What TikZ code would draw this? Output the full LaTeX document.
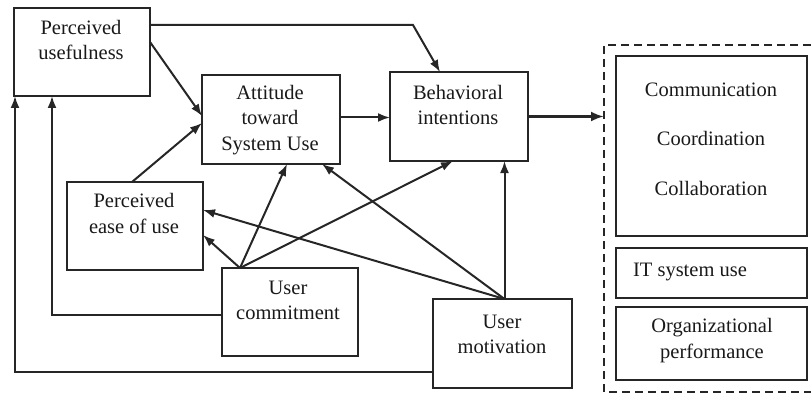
\documentclass[tikz,border=0pt]{standalone}
\usepackage{fontspec}
\setmainfont{Liberation Serif}
\usetikzlibrary{arrows.meta,calc}
\begin{document}
\begin{tikzpicture}[x=1pt,y=-1pt,
  box/.style={draw=black!85,line width=2pt,inner sep=0pt,outer sep=0pt,rectangle},
  txt/.style={align=center,inner sep=0pt,font=\fontsize{20.5}{25.5}\selectfont,text=black!90},
  conn/.style={draw=black!85,line width=2pt},
  arr/.style={conn,-{Latex[length=12pt,width=9pt]}}]
\useasboundingbox (0,0) rectangle (811,401);
% boxes
\node[box,minimum width=136,minimum height=88] (pu) at (82,52) {};
\node[box,minimum width=138,minimum height=89] (att) at (271,119.5) {};
\node[box,minimum width=138,minimum height=89] (bi) at (459,116.5) {};
\node[box,minimum width=136,minimum height=88] (peou) at (135,226) {};
\node[box,minimum width=136,minimum height=88] (uc) at (290,312) {};
\node[box,minimum width=139,minimum height=89] (um) at (502.5,343.5) {};
\node[box,minimum width=191,minimum height=180] (comm) at (711.5,146) {};
\node[box,minimum width=191,minimum height=50] (it) at (711.5,273) {};
\node[box,minimum width=191,minimum height=73] (org) at (711.5,343.5) {};
% texts
\node[txt] (tpu) at (81,40) {Perceived\\usefulness};
\node[txt] (tatt) at (270,120) {Attitude\\toward\\System Use};
\node[txt] (tbi) at (458,105) {Behavioral\\intentions};
\node[txt] (tpeou) at (134,213.5) {Perceived\\ease of use};
\node[txt] (tuc) at (288,300.5) {User\\commitment};
\node[txt] (tum) at (502,334.5) {User\\motivation};
\node[txt] (tcomm) at (711,139) {Communication\\[24pt]Coordination\\[24pt]Collaboration};
\node[txt] (tit) at (690,272) {IT system use};
\node[txt] (torg) at (712,340.5) {Organizational\\performance};
% dashed group
\draw[draw=black!85,line width=2.2pt,dash pattern=on 8pt off 5pt] (811,45) -- (604,45) -- (604,392) -- (811,392);
\coordinate (grp) at (604,116.5);
% connectors
\draw[arr] ([yshift=-17pt]pu.north east) -- (413,25) -- ([xshift=-19pt]bi.north);
\draw[arr] ([yshift=-34pt]pu.north east) -- ([yshift=3.5pt]att.west);
\draw[arr] ([xshift=-3pt]peou.north) -- ([yshift=-3.5pt]att.west);
\draw[arr] ([yshift=2pt]att.east) -- ([yshift=2pt]att.east -| bi.west);
\draw[conn,line width=3pt,-{Latex[length=13pt,width=10pt]}] (bi.east) -- (grp);
\draw[arr] ([yshift=-28.5pt]um.west) -| ([xshift=1pt]pu.south west);
\draw[arr] ([yshift=-3pt]uc.west) -| ([xshift=38pt]pu.south west);
\coordinate (ucT) at ([xshift=-50pt]uc.north);
\coordinate (umT) at ([xshift=2pt]um.north);
\draw[arr] (ucT) -- ([yshift=-9pt]peou.east);
\draw[arr] (ucT) -- ([xshift=16pt]att.south);
\draw[arr] (ucT) -- ([xshift=-6pt]bi.south);
\draw[arr] (umT) -- ([yshift=16pt]peou.east);
\draw[arr] (umT) -- ([xshift=51pt]att.south);
\draw[arr] (umT) -- (umT |- bi.south);
\end{tikzpicture}
\end{document}
